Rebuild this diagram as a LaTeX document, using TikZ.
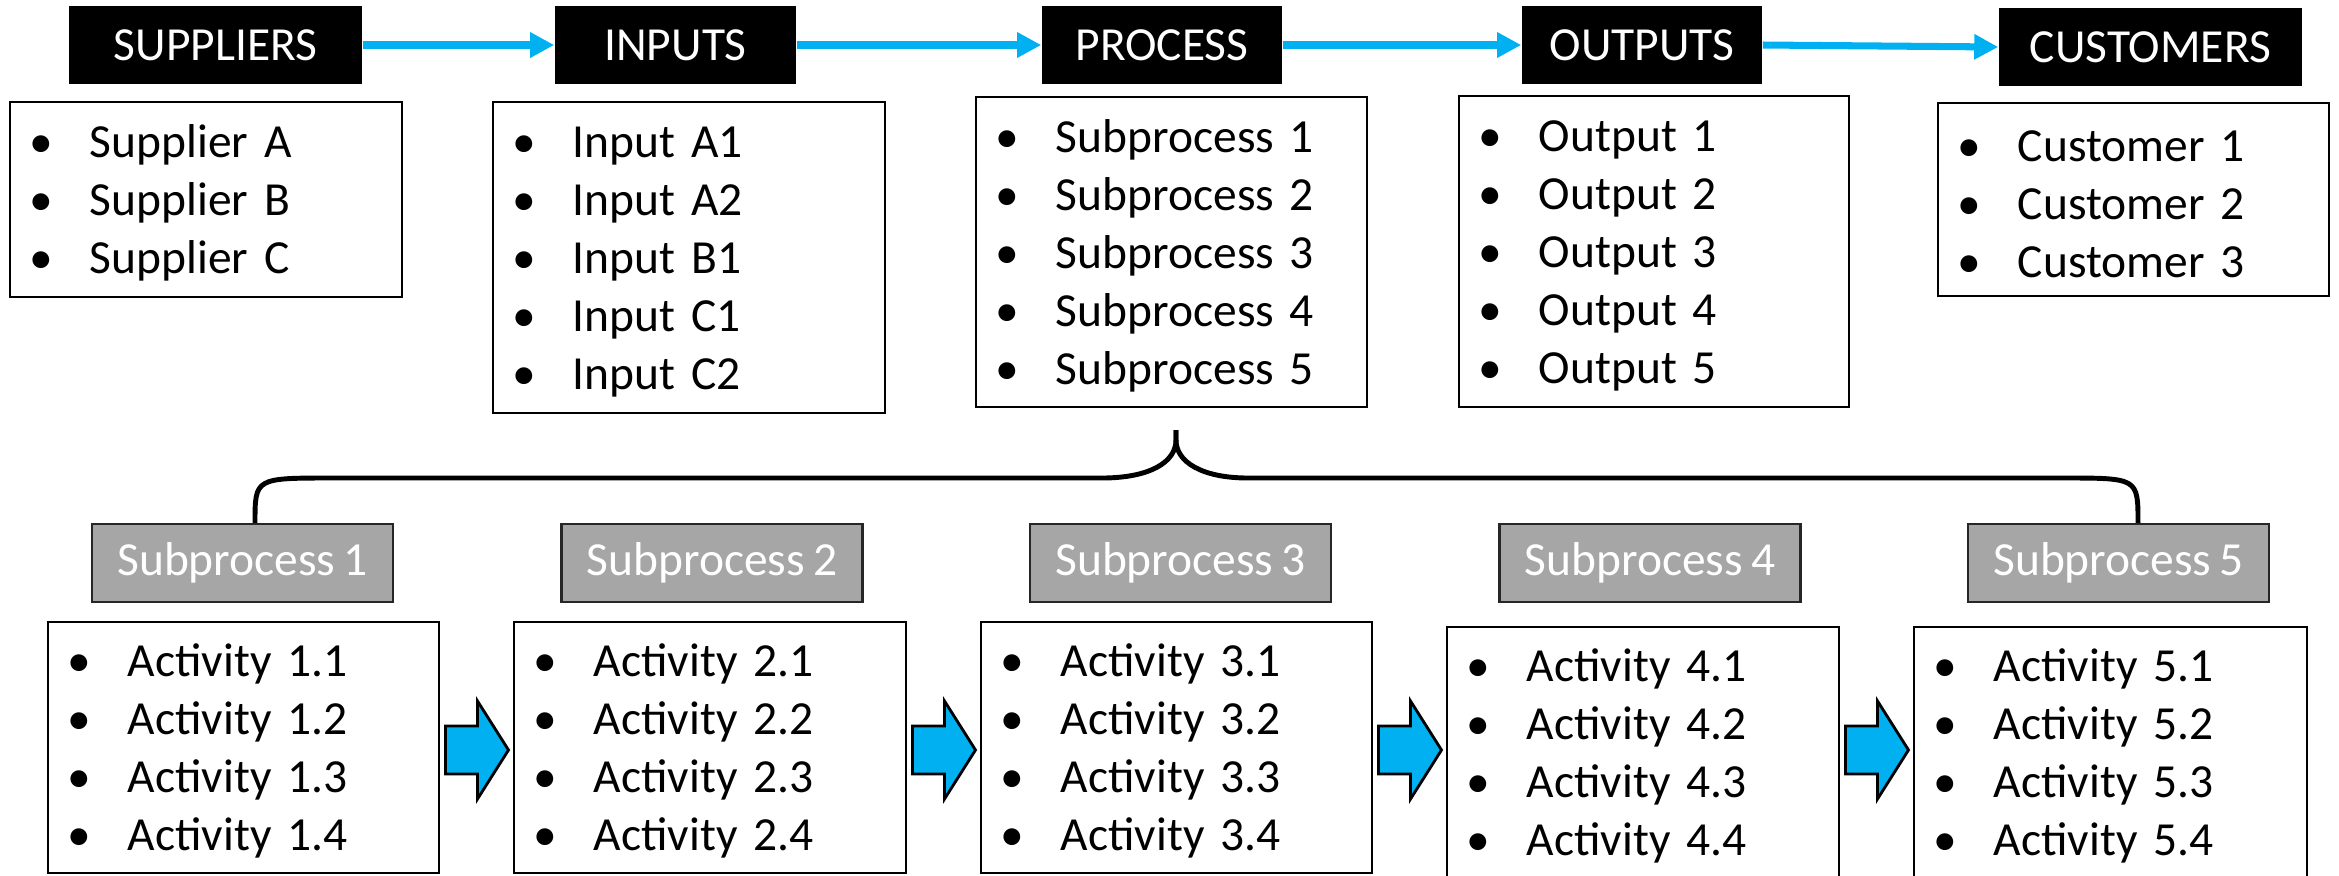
\documentclass[tikz,border=0pt]{standalone}
\usepackage{fontspec}
\setmainfont{Carlito}
\usetikzlibrary{arrows.meta,calc}
\definecolor{sipocblue}{HTML}{00B0F0}
\definecolor{subgray}{HTML}{A6A6A6}
\newcommand\sipocfont{\fontsize{13.5pt}{16.5pt}\selectfont\spaceskip 0.17em plus 0.05em\relax}
\newcommand\itm{\rule{0pt}{11.5pt}\makebox[0.6cm][l]{\textbullet}}
\newcommand\sipocarrow[1]{\draw[barrow] ($(#1)+(-31,-24)$) -- ++(32,0) -- ++(0,-25) -- ++(31,49) -- ++(-31,49) -- ++(0,-25) -- ++(-32,0) -- cycle;}
\begin{document}
\begin{tikzpicture}[x=0.01cm,y=-0.01cm,
  txt/.style={font=\sipocfont},
  head/.style={txt, fill=black, text=white, minimum height=0.78cm, inner sep=0pt},
  listbox/.style={txt, draw=black, line width=0.7pt, align=left, inner xsep=0.2cm, inner ysep=0pt},
  subbox/.style={txt, fill=subgray, draw=black!85, line width=0.7pt, text=white, minimum height=0.78cm, minimum width=3.01cm, inner sep=0pt},
  flow/.style={sipocblue, line width=2pt, -{Triangle[length=0.24cm,width=0.24cm]}},
  brace/.style={line width=1.4pt, line join=round},
  barrow/.style={fill=sipocblue, draw=black, line width=0.8pt, line join=miter}
]
\useasboundingbox (0,0) rectangle (2339,875);

% header boxes
\node[head, minimum width=2.93cm] (hsup) at (215.5,45) {SUPPLIERS};
\node[head, minimum width=2.41cm] (hinp) at (675.5,45) {INPUTS};
\node[head, minimum width=2.40cm] (hproc) at (1162,45) {PROCESS};
\node[head, minimum width=2.40cm] (hout) at (1642,45) {OUTPUTS};
\node[head, minimum width=3.03cm] (hcust) at (2150.5,47) {CUSTOMERS};

\draw[flow] (hsup.east) -- (hinp.west);
\draw[flow] (hinp.east) -- (hproc.west);
\draw[flow] (hproc.east) -- (hout.west);
\draw[flow] (hout.east) -- (hcust.west);

% top lists
\node[listbox, text width=3.52cm, minimum height=1.95cm] (sup) at (206,199.5)
  {\itm Supplier A\\ \itm Supplier B\\ \itm Supplier C};
\node[listbox, text width=3.52cm, minimum height=3.11cm] (inp) at (689,257.5)
  {\itm Input A1\\ \itm Input A2\\ \itm Input B1\\ \itm Input C1\\ \itm Input C2};
\node[listbox, text width=3.51cm, minimum height=3.10cm] (proc) at (1171.5,252)
  {\itm Subprocess 1\\ \itm Subprocess 2\\ \itm Subprocess 3\\ \itm Subprocess 4\\ \itm Subprocess 5};
\node[listbox, text width=3.50cm, minimum height=3.11cm] (out) at (1654,251.5)
  {\itm Output 1\\ \itm Output 2\\ \itm Output 3\\ \itm Output 4\\ \itm Output 5};
\node[listbox, text width=3.51cm, minimum height=1.93cm] (cust) at (2133.5,199.5)
  {\itm Customer 1\\ \itm Customer 2\\ \itm Customer 3};

% subprocess boxes
\node[subbox] (s1) at (242.5,563) {Subprocess 1};
\node[subbox] (s2) at (712,563) {Subprocess 2};
\node[subbox] (s3) at (1180.5,563) {Subprocess 3};
\node[subbox] (s4) at (1650,563) {Subprocess 4};
\node[subbox] (s5) at (2118.5,563) {Subprocess 5};

% brace
\coordinate (tip) at (1176,430);
\draw[brace] ([xshift=0.125cm]s1.north) .. controls (255,478) .. (332,478) -- (1102,478)
  .. controls (1150,478) and (1176,462) .. (1176,440) -- (tip);
\draw[brace] (tip) -- (1176,440) .. controls (1176,462) and (1202,478) .. (1248,478) -- (2063,478)
  .. controls (2138,478) .. ([xshift=0.195cm]s5.north);

% activity lists
\node[listbox, text width=3.51cm, minimum height=2.51cm] (a1) at (243.5,747.5)
  {\itm Activity 1.1\\ \itm Activity 1.2\\ \itm Activity 1.3\\ \itm Activity 1.4};
\node[listbox, text width=3.52cm, minimum height=2.51cm] (a2) at (710,747.5)
  {\itm Activity 2.1\\ \itm Activity 2.2\\ \itm Activity 2.3\\ \itm Activity 2.4};
\node[listbox, text width=3.51cm, minimum height=2.51cm] (a3) at (1176.5,747.5)
  {\itm Activity 3.1\\ \itm Activity 3.2\\ \itm Activity 3.3\\ \itm Activity 3.4};
\node[listbox, text width=3.52cm, minimum height=2.51cm] (a4) at (1643,752.5)
  {\itm Activity 4.1\\ \itm Activity 4.2\\ \itm Activity 4.3\\ \itm Activity 4.4};
\node[listbox, text width=3.53cm, minimum height=2.51cm] (a5) at (2110.5,752.5)
  {\itm Activity 5.1\\ \itm Activity 5.2\\ \itm Activity 5.3\\ \itm Activity 5.4};

% block arrows
\coordinate (m1) at ($(a1.east)!0.5!(a2.west)+(0,2.5)$);
\coordinate (m2) at ($(a2.east)!0.5!(a3.west)+(0,2.5)$);
\coordinate (m3) at ($(a3.east)!0.5!(a4.west)$);
\coordinate (m4) at ($(a4.east)!0.5!(a5.west)+(0,-2.5)$);
\sipocarrow{m1}
\sipocarrow{m2}
\sipocarrow{m3}
\sipocarrow{m4}
\end{tikzpicture}
\end{document}
